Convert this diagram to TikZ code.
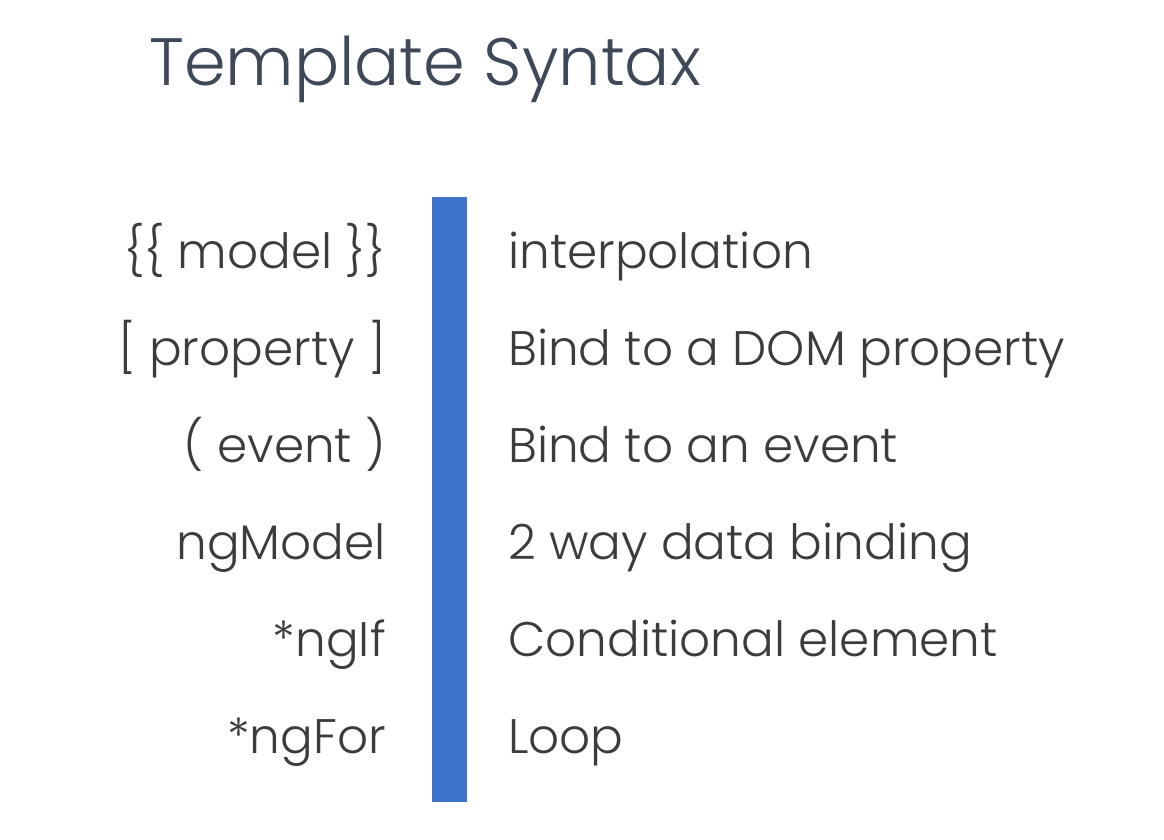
\documentclass[tikz,border=0pt]{standalone}
\usepackage{fontspec}
\setmainfont{Poppins}[UprightFont=* Light]
\usepackage{tikz}
\definecolor{barblue}{HTML}{3E73CA}
\definecolor{titlegray}{HTML}{3F4858}
\definecolor{textgray}{HTML}{3C3C3C}
\tikzset{syn/.style = {anchor=base east, inner sep=0pt, text=textgray,
                       font=\fontsize{48.5}{52}\selectfont},
         desc/.style = {anchor=base west, inner sep=0pt, text=textgray,
                        font=\fontsize{48.5}{52}\selectfont}}

\begin{document}
\begin{tikzpicture}[x=1pt, y=-1pt]
    \useasboundingbox (0, 0) rectangle (1164, 839);
    \node [anchor=base west, inner sep=0pt, text=titlegray,
           font=\fontsize{67}{72}\selectfont] (title) at (149, 85) {Template Syntax};

    \fill [barblue] (432, 197) rectangle (467, 802);
    \foreach \lhs/\rhs [count=\i] in {{\{\{ model \}\}}/interpolation,
                                     {[ property ]}/Bind to a DOM property,
                                     {( event )}/Bind to an event,
                                     ngModel/2 way data binding,
                                     *ngIf/Conditional element,
                                     *ngFor/Loop} {
      \node [syn] (syn-\i) at (386, 171 + 97*\i) {\lhs};
      \node [desc] (desc-\i) at (508, 171 + 97*\i) {\rhs};
    }
  \end{tikzpicture}
\end{document}
